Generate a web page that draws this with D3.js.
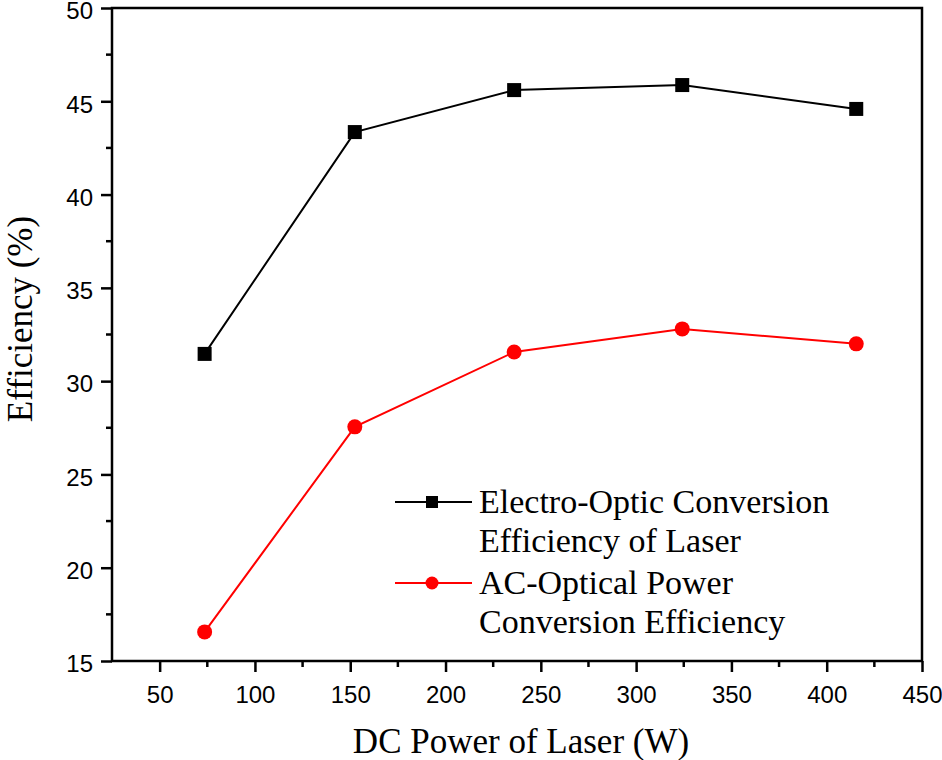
<!DOCTYPE html>
<html><head><meta charset="utf-8">
<script src="https://cdn.jsdelivr.net/npm/d3@7"></script>
<style>body{margin:0;background:#fff}</style>
</head><body>
<svg id="c" width="942" height="760"></svg>
<script>
const xPower = [73.6, 152.4, 236, 324.2, 415.5];
const electroOptic = [31.46, 43.35, 45.6, 45.87, 44.59];
const acOptical = [16.56, 27.55, 31.56, 32.8, 32.0];
const xTicks = [50, 100, 150, 200, 250, 300, 350, 400, 450];
const yTicks = [15, 20, 25, 30, 35, 40, 45, 50];
const legendLabels = [["Electro-Optic Conversion", "Efficiency of Laser"], ["AC-Optical Power", "Conversion Efficiency"]];

const svg = d3.select("#c");
const L = 112, R = 922, T = 8, B = 661;
const x = d3.scaleLinear().domain([25, 450]).range([L, R]);
const y = d3.scaleLinear().domain([15, 50]).range([B, T]);
const tickFont = "Liberation Sans, Arial, sans-serif";
const serif = "Liberation Serif, Times New Roman, serif";

// frame
svg.append("rect").attr("x", L).attr("y", T).attr("width", R - L).attr("height", B - T)
  .attr("fill", "none").attr("stroke", "#000").attr("stroke-width", 2.5);

// x axis
const xa = svg.append("g").attr("transform", `translate(0,${B})`)
  .call(d3.axisBottom(x).tickValues(xTicks).tickSize(11).tickPadding(14).tickFormat(d3.format("d")));
xa.select(".domain").remove();
xa.selectAll("line").attr("stroke", "#000").attr("stroke-width", 2.5);
xa.selectAll("text").attr("font-family", tickFont).attr("font-size", 24).attr("fill", "#000");
const xMinor = d3.range(75, 450, 50);
svg.append("g").selectAll("line").data(xMinor).join("line")
  .attr("x1", d => x(d)).attr("x2", d => x(d)).attr("y1", B).attr("y2", B + 6)
  .attr("stroke", "#000").attr("stroke-width", 2.5);

// y axis
const ya = svg.append("g").attr("transform", `translate(${L},0)`)
  .call(d3.axisLeft(y).tickValues(yTicks).tickSize(11).tickPadding(8).tickFormat(d3.format("d")));
ya.select(".domain").remove();
ya.selectAll("line").attr("stroke", "#000").attr("stroke-width", 2.5);
ya.selectAll("text").attr("font-family", tickFont).attr("font-size", 24).attr("fill", "#000")
  .attr("dy", "0.45em");
const yMinor = d3.range(17.5, 50, 5);
svg.append("g").selectAll("line").data(yMinor).join("line")
  .attr("x1", L - 6).attr("x2", L).attr("y1", d => y(d)).attr("y2", d => y(d))
  .attr("stroke", "#000").attr("stroke-width", 2.5);

// titles
svg.append("text").attr("x", 521).attr("y", 753).attr("text-anchor", "middle")
  .attr("font-family", serif).attr("font-size", 35).text("DC Power of Laser (W)");
svg.append("text").attr("transform", "translate(32,319) rotate(-90)").attr("text-anchor", "middle")
  .attr("font-family", serif).attr("font-size", 35).text("Efficiency (%)");

// series
const line = d3.line().x(d => x(d[0])).y(d => y(d[1]));
const blackData = xPower.map((v, i) => [v, electroOptic[i]]);
const redData = xPower.map((v, i) => [v, acOptical[i]]);
svg.append("path").datum(blackData).attr("d", line).attr("fill", "none").attr("stroke", "#000").attr("stroke-width", 2);
svg.append("path").datum(redData).attr("d", line).attr("fill", "none").attr("stroke", "#ff0000").attr("stroke-width", 2);
svg.append("g").selectAll("rect").data(blackData).join("rect")
  .attr("x", d => x(d[0]) - 7).attr("y", d => y(d[1]) - 7).attr("width", 14).attr("height", 14).attr("fill", "#000");
svg.append("g").selectAll("circle").data(redData).join("circle")
  .attr("cx", d => x(d[0])).attr("cy", d => y(d[1])).attr("r", 7.5).attr("fill", "#ff0000");

// legend
const lg = svg.append("g");
const colors = ["#000", "#ff0000"];
const rowY = [502, 583];
legendLabels.forEach((lines, i) => {
  lg.append("line").attr("x1", 395).attr("x2", 472).attr("y1", rowY[i]).attr("y2", rowY[i])
    .attr("stroke", colors[i]).attr("stroke-width", 2);
  if (i === 0) lg.append("rect").attr("x", 426).attr("y", rowY[i] - 6).attr("width", 12).attr("height", 12).attr("fill", "#000");
  else lg.append("circle").attr("cx", 432).attr("cy", rowY[i]).attr("r", 6.5).attr("fill", "#ff0000");
  lines.forEach((t, j) => {
    lg.append("text").attr("x", 479).attr("y", rowY[i] + 11 + j * 39)
      .attr("font-family", serif).attr("font-size", 34).attr("fill", "#000").text(t);
  });
});
</script>
</body></html>
